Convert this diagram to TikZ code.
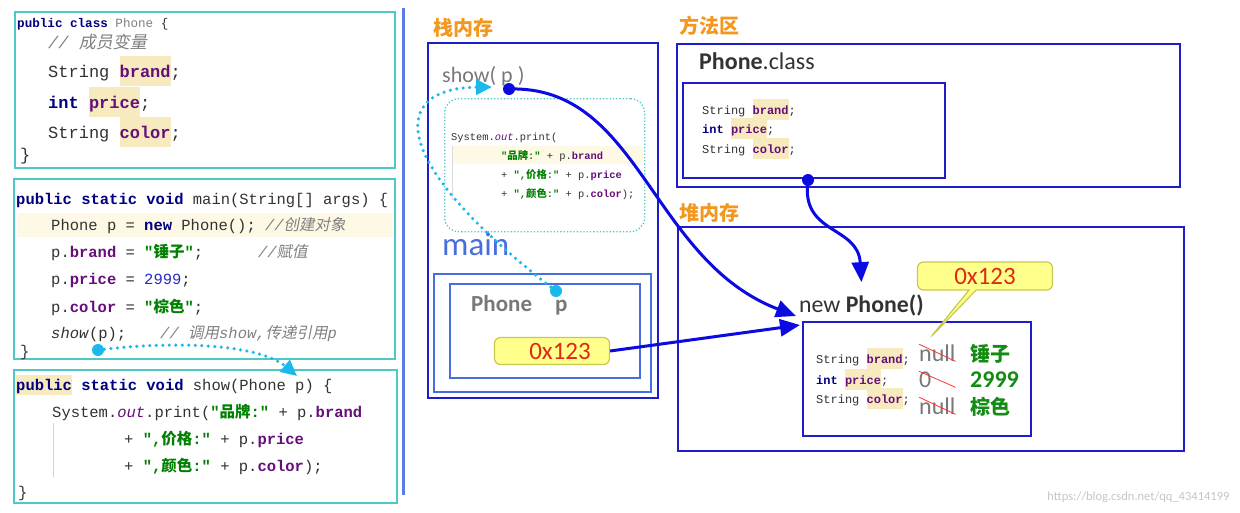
\documentclass[tikz,border=0pt]{standalone}
\usepackage{fontspec}
\setmainfont{Carlito}
\setmonofont{Liberation Mono}
\newfontfamily\cjk{Noto Sans CJK SC}
\newfontfamily\cjkit{Noto Sans CJK SC}[FakeSlant=0.2]
\usetikzlibrary{arrows.meta,shapes.callouts}

\definecolor{codeteal}{RGB}{78,200,200}
\definecolor{memblue}{RGB}{30,30,200}
\definecolor{mainblue}{RGB}{70,110,225}
\definecolor{refblue}{RGB}{10,10,225}
\definecolor{callcyan}{RGB}{25,185,235}
\definecolor{kwblue}{RGB}{0,0,128}
\definecolor{fieldc}{RGB}{102,14,122}
\definecolor{strgreen}{RGB}{0,128,0}
\definecolor{cmtgrey}{RGB}{128,128,128}
\definecolor{numblue}{RGB}{40,40,200}
\definecolor{hlbg}{RGB}{246,234,190}
\definecolor{rowbg}{RGB}{253,249,228}
\definecolor{memorange}{RGB}{243,152,30}
\definecolor{addrfill}{RGB}{255,255,140}
\definecolor{addrdraw}{RGB}{200,200,80}
\definecolor{addrred}{RGB}{225,40,20}
\definecolor{valgreen}{RGB}{20,140,20}
\definecolor{labgrey}{RGB}{120,120,120}
\definecolor{codetext}{RGB}{50,50,50}

% code colouring
\newcommand\kw[1]{\textcolor{kwblue}{\bfseries #1}}
\newcommand\fd[1]{\textcolor{fieldc}{\bfseries #1}}
\newcommand\hl[1]{{\setlength\fboxsep{0pt}\colorbox{hlbg}{\rule[-.5em]{0pt}{1.75em}#1}}}
\newcommand\hfd[1]{\hl{\fd{#1}}}
\newcommand\zh[1]{{\cjk #1}}
\newcommand\zhit[1]{{\cjkit\upshape #1}}
\newcommand\jstr[1]{\textcolor{strgreen}{\bfseries #1}}
\newcommand\cmt[1]{\textcolor{cmtgrey}{\itshape #1}}
\newcommand\jout{\textcolor{fieldc}{\itshape out}}

\begin{document}
\begin{tikzpicture}[x=1pt,y=-1pt,
    boxbase/.style={anchor=north west, inner sep=0pt},
    codeframe/.style={boxbase, draw=codeteal, line width=2.2pt},
    memframe/.style={boxbase, draw=memblue, line width=1.8pt},
    mainframe/.style={boxbase, draw=mainblue, line width=1.5pt},
    codeline/.style={anchor=base west, inner sep=0pt, text=codetext, font=\ttfamily\fontsize{15.5}{18}\selectfont},
    bigcode/.style={codeline, font=\ttfamily\fontsize{17}{20}\selectfont},
    smallcode/.style={codeline, font=\ttfamily\fontsize{12}{14}\selectfont},
    tinycode/.style={codeline, font=\ttfamily\fontsize{10.4}{12}\selectfont},
    memlbl/.style={anchor=west, inner sep=0pt, text=memorange, font=\cjk\bfseries\fontsize{20}{22}\selectfont},
    oldval/.style={anchor=base west, inner sep=0pt, text=labgrey, font=\fontsize{24}{26}\selectfont},
    newval/.style={anchor=base west, inner sep=0pt, text=valgreen, font=\bfseries\fontsize{24}{26}\selectfont},
    strike/.style={draw=red!80, line width=0.8pt},
    refline/.style={draw=refblue, line width=3pt, -{Triangle[length=20pt,width=17pt]}},
    callpath/.style={draw=callcyan, line width=3.5pt, dash pattern=on 0pt off 6.5pt, line cap=round,
        -{Triangle[length=16pt,width=15pt,fill=callcyan]}},
    addrbox/.style={draw=addrdraw, fill=addrfill, line width=1.2pt, rounded corners=6pt,
        text=addrred, font=\fontsize{25}{27}\selectfont}]

    \fill[white] (0,0) rectangle (1240,512);
    \useasboundingbox (0,0) rectangle (1240,512);

    % source code, left
    \node[codeframe, minimum width=380, minimum height=156] (clsbox) at (14,11) {};
    \node[codeframe, minimum width=381, minimum height=180] (mainbox) at (13,178) {};
    \node[codeframe, minimum width=383, minimum height=133] (showbox) at (13,369) {};
    \draw[draw=mainblue!90, line width=3pt] (403,8) -- (403,495);

    \node[bigcode] (clsA) at (17,27) {\fontsize{12.6}{14}\selectfont\kw{public} \kw{class} \textcolor{cmtgrey}{Phone} \{};
    \node[bigcode] (clsB) at (48,48) {\cmt{// \zhit{成员变量}}};
    \node[bigcode] (clsC) at (48,77) {String \hfd{brand};};
    \node[bigcode] (clsD) at (48,108) {\kw{int} \hfd{price};};
    \node[bigcode] (clsE) at (48,138) {String \hfd{color};};
    \node[bigcode] (clsF) at (20,160) {\}};

    \fill[rowbg] (17,213) rectangle (393,237);
    \node[codeline] (mainA) at (16,204) {\kw{public} \kw{static} \kw{void} main(String[] args) \{};
    \node[codeline] (mainB) at (51,230) {Phone p = \kw{new} Phone(); \cmt{//\zhit{创建对象}}};
    \node[codeline] (mainC) at (51,257) {p.\fd{brand} = \jstr{"\zh{锤子}"};\hspace*{55pt}\cmt{//\zhit{赋值}}};
    \node[codeline] (mainD) at (51,284) {p.\fd{price} = \textcolor{numblue}{2999};};
    \node[codeline] (mainE) at (51,312) {p.\fd{color} = \jstr{"\zh{棕色}"};};
    \node[codeline] (mainF) at (51,338) {\textit{show}(p);\hspace*{34pt}\cmt{// \zhit{调用}show,\zhit{传递引用}p}};
    \node[codeline] (mainG) at (20,356) {\}};

    \draw[gray!35] (53,423) -- (53,477);
    \node[codeline] (showA) at (16,390) {{\setlength\fboxsep{0pt}\colorbox{hlbg}{\rule[-.3em]{0pt}{1.3em}\kw{public}}} \kw{static} \kw{void} show(Phone p) \{};
    \node[codeline] (showB) at (52,417) {System.\jout.print(\jstr{"\zh{品牌}:"} + p.\fd{brand}};
    \node[codeline] (showC) at (124,444) {+ \jstr{",\zh{价格}:"} + p.\fd{price}};
    \node[codeline] (showD) at (124,471) {+ \jstr{",\zh{颜色}:"} + p.\fd{color});};
    \node[codeline] (showE) at (18,497) {\}};

    % stack
    \node[memlbl] (stacklbl) at (433,28) {栈内存};
    \node[memframe, minimum width=230, minimum height=355] (stack) at (427,42) {};
    \node[anchor=west, inner sep=0pt, text=labgrey, font=\fontsize{22}{24}\selectfont] (showlbl) at (442,76) {show( p )};
    \node[boxbase, draw=codeteal, line width=1.3pt, dotted, rounded corners=14pt,
        minimum width=200, minimum height=133] (showfrm) at (444,98) {};
    \fill[rowbg] (452,146) rectangle (643,164);
    \draw[gray!30] (452,146) -- (452,200);
    \node[tinycode] (frameA) at (451,140) {System.\jout.print(};
    \node[tinycode] (frameB) at (501,159) {\jstr{"\zh{品牌}:"} + p.\fd{brand}};
    \node[tinycode] (frameC) at (501,178) {+ \jstr{",\zh{价格}:"} + p.\fd{price}};
    \node[tinycode] (frameD) at (501,197) {+ \jstr{",\zh{颜色}:"} + p.\fd{color});};

    \node[anchor=base west, inner sep=0pt, text=mainblue, font=\fontsize{33}{36}\selectfont] (mainlbl) at (442,255) {main};
    \node[mainframe, minimum width=217, minimum height=118] (mainout) at (433,273) {};
    \node[mainframe, minimum width=190, minimum height=94] (mainin) at (449,283) {};
    \node[anchor=base west, inner sep=0pt, text=labgrey, font=\bfseries\fontsize{23}{25}\selectfont] (varlbl) at (471,311) {Phone\hspace*{23pt}p};
    \node[addrbox, minimum width=115, minimum height=27, inner sep=0pt] (addr) at (552,351) {\hspace*{16pt}0x123};

    % method area
    \node[memlbl] (methodlbl) at (679,26) {方法区};
    \node[memframe, minimum width=503, minimum height=143] (method) at (676,43) {};
    \node[anchor=base west, inner sep=0pt, text=black!80, font=\fontsize{24}{26}\selectfont] (classlbl) at (699,69) {\textbf{Phone}.class};
    \node[memframe, line width=2pt, minimum width=262, minimum height=95] (classbox) at (682,82) {};
    \node[smallcode] (fldA) at (702,114) {String \hfd{brand};};
    \node[smallcode] (fldB) at (702,133) {\kw{int} \hfd{price};};
    \node[smallcode] (fldC) at (702,153) {String \hfd{color};};

    % heap
    \node[memlbl] (heaplbl) at (679,213) {堆内存};
    \node[memframe, minimum width=506, minimum height=224] (heap) at (677,226) {};
    \node[anchor=base west, inner sep=0pt, text=black!80, font=\fontsize{23.8}{26}\selectfont] (newlbl) at (799,312) {new \textbf{Phone()}};
    \node[memframe, line width=2pt, minimum width=228, minimum height=114] (objbox) at (802,321) {};
    \node[smallcode] (objA) at (816,363) {String \hfd{brand};};
    \node[smallcode] (objB) at (816,384) {\kw{int} \hfd{price};};
    \node[smallcode] (objC) at (816,403) {String \hfd{color};};

    \node[oldval] (nullA) at (919,361) {null};
    \node[oldval] (zeroB) at (919,387) {0};
    \node[oldval] (nullC) at (919,414) {null};
    \draw[strike] (nullA.north west) -- (nullA.south east);
    \draw[strike] (zeroB.north west) -- ([xshift=24pt]zeroB.south east);
    \draw[strike] (nullC.north west) -- (nullC.south east);
    \node[newval] (valA) at (970,361) {\cjk\fontsize{20}{22}\selectfont 锤子};
    \node[newval] (valB) at (970,387) {2999};
    \node[newval] (valC) at (970,414) {\cjk\fontsize{20}{22}\selectfont 棕色};

    \node[rectangle callout, addrbox, callout absolute pointer={(930,338)},
        minimum width=135, minimum height=28, inner sep=0pt] (heapaddr) at (985,276) {0x123};

    % references
    \coordinate (showdot) at (509,89);
    \coordinate (classdot) at (808,180);
    \coordinate (mainp) at (98,350);
    \coordinate (pdot) at (556,291);
    \coordinate (showsig) at (297,376);
    \coordinate (showarg) at (492,87);

    \draw[refline] (showdot) .. controls (640,85) and (650,260) .. ([xshift=-6pt,yshift=5pt]objbox.north west);
    \draw[refline] (addr.east) -- ([xshift=-2pt,yshift=-4pt]objbox.north west);
    \draw[refline] (classdot) .. controls (800,235) and (858,225) .. ([yshift=12pt]newlbl.north);
    \fill[refblue] (showdot) circle (6pt);
    \fill[refblue] (classdot) circle (6pt);

    \draw[callpath] (mainp) .. controls (180,340) and (260,345) .. (showsig);
    \draw[callpath] (pdot) .. controls (385,160) and (390,88) .. (showarg);
    \fill[callcyan] (mainp) circle (6pt);
    \fill[callcyan] (pdot) circle (6pt);

    \node[anchor=east, text=gray!45, font=\fontsize{12.5}{14}\selectfont] (credit) at (1233,497) {https://blog.csdn.net/qq\_43414199};

\end{tikzpicture}
\end{document}
